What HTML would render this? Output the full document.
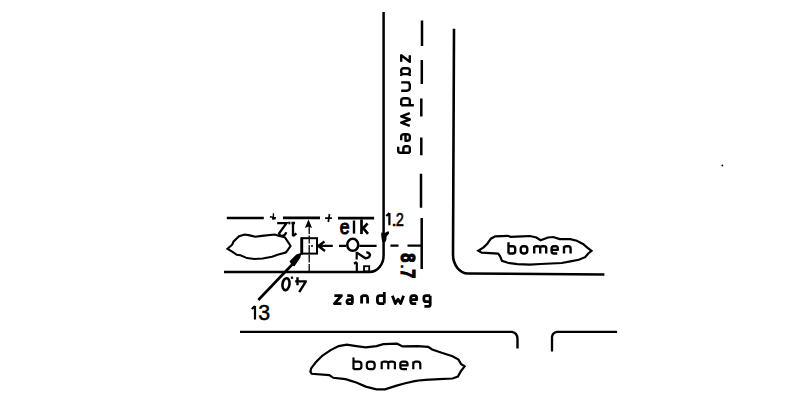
<!DOCTYPE html>
<html><head><meta charset="utf-8">
<style>
html,body{margin:0;padding:0;background:#fff;width:800px;height:415px;overflow:hidden}
svg{position:absolute;left:0;top:0;display:block}
text{font-family:"Liberation Sans",sans-serif;fill:#000}
</style></head>
<body>
<svg width="800" height="415" viewBox="0 0 800 415">
<g fill="none" stroke="#000" stroke-width="2.5">
  <path d="M383.6 12 V255.5 A14 16.5 0 0 1 369.6 272 H224"/>
  <path d="M454 28.7 L453 254.5 A15 19 0 0 0 468 273.5 L604.4 274.5" stroke-width="2.6"/>
  <path d="M422 20.5 V46 M421.8 60 V84 M421.3 98.5 V116.5 M421.3 137.5 V155.3 M421 173.7 V207.7 M421.7 218 V269"/>
  <path d="M240 331.9 H512 Q517.5 333 517.5 339 V348.5" stroke-width="2.4"/>
  <path d="M552 351.6 V337 Q552.5 332.5 557 331.9 H617.1" stroke-width="2.3"/>
  <path d="M226.8 218 H263.8 M283 217.9 H320 M338 218.1 H374.1" stroke-width="2.6"/>
  <path d="M269.9 216.7 L276 217.9 M273.4 213.3 V219.6" stroke-width="1.4"/>
  <rect x="272" y="217" width="3.5" height="2.5" fill="#000" stroke="none"/>
  <path d="M325.1 218.2 H331.9 M329.5 214 L328.3 222" stroke-width="1.7"/>
  <path d="M325 245.9 H332.8 M339 245.9 H346.3 M359.3 245.9 H376.6 M390.4 245.6 H398.5 M407.5 245.6 H422" stroke-width="2.2"/>
  <path d="M317.8 245.9 H326" stroke-width="2.2"/>
  <path d="M318.3 246 L324.5 241.5 M318.3 246 L325 251" stroke-width="2.2"/>
  <path d="M318 246 L322 243.5 L322 248.5 Z" fill="#000" stroke-width="1"/>
  <ellipse cx="352.75" cy="244.8" rx="5.5" ry="6" stroke-width="2.5"/>
  <rect x="301.7" y="238.2" width="15.3" height="15.4" stroke-width="2"/>
  <path d="M301.8 237.5 V254.5" stroke-width="2.8"/>
  <path d="M309.2 226 V272" stroke-width="1.3" stroke-dasharray="8 1.5"/>
  <circle cx="312" cy="246" r="1" fill="#000" stroke="none"/>
  <path d="M308.5 221 L306 227 L308.5 226 L311 227 Z" fill="#000" stroke-width="1.2"/>
  <path d="M258.3 300 L297 259.5" stroke-width="2.6"/>
  <path d="M300.3 254.1 L296.7 255.2 L290.5 261.4 L292.4 264.8 L294.2 265.4 L299.6 257.4 Z" fill="#000" stroke-width="1.6"/>
  <path d="M356.7 251.8 V259.6 M356.8 262.5 V272" stroke-width="2.2"/>
  <rect x="364" y="266.2" width="5.2" height="5.2" stroke-width="1.8"/>
  <path d="M381.3 232.5 L384.8 233 L388.3 231 L389.3 233.3 L386.6 236.5 L386.4 239.5 L385.3 241.9 L382.2 241.9 L381.6 238.5 L381.2 235 Z" fill="#000" stroke="none"/>
  <path d="M227.5 248.8 L232.2 244.7 L233.6 241.4 L239.1 236.3 L244.7 234.5 L249.8 235.4 L255.3 236.8 L261.8 235.9 L274.7 234.5 L279.4 235.9 L284.9 237.3 L288.6 242.8 L290.5 246 L287.7 250.2 L285.8 252.5 L277.5 254.8 L272 256.7 L262.7 258.5 L254.4 259 L247 258.1 L240.5 255.3 L236.8 254.8 L232.2 251.6 Z" stroke-width="2.1"/>
  <path d="M478.3 250.7 L483.6 247.4 L487.5 243.5 L490.9 238.7 L495.2 236.3 L507.8 235.8 L510.6 236.8 L522.2 236.3 L530 236 L536.4 237.5 L540.6 240.2 L548 237.5 L553.3 237 L559.7 239.1 L570.3 239.1 L576.7 240.7 L583 243.9 L587.3 247.6 L591.5 250.8 L588.3 253.5 L585.1 257.2 L578.8 259.8 L570.3 261.4 L561.8 263 L551.2 263.5 L540.6 264 L530 264.6 L517.4 264.2 L507.8 262.8 L502 260.9 L500 256 L498.1 253.6 L481.7 252.7 Z" stroke-width="2.2"/>
  <path d="M310.4 371.7 L311.1 368.4 L315.8 362.3 L322.5 355.5 L330.6 350.1 L338.7 346.1 L346.8 344.7 L356.3 346.1 L365.7 347.4 L376.5 346.1 L383.3 344.1 L397.1 343.7 L402.5 346.4 L417.4 346.1 L428.2 346.8 L432.2 349.5 L441.7 352.8 L452.5 356.2 L458.5 359.6 L461.2 364.3 L464.6 366.3 L460.6 371.7 L457.9 376.5 L452.5 378.5 L439 379.2 L425.5 379.8 L418.7 380.5 L414.7 381.2 L405.2 383.2 L395.8 385.9 L385 389.3 L376.5 389.3 L365.7 386.6 L356.3 382.5 L345.5 379.2 L333.3 377.8 L329.3 375.1 L311.7 373.8 Z" stroke-width="2.2"/>
</g>
<circle cx="722.3" cy="165.5" r="0.9" fill="#000"/>

<path d="M0 0 H1 L0 1 H1" transform="matrix(7.0000 0.0000 0.0000 7.9000 334.400 295.700)" vector-effect="non-scaling-stroke" fill="none" stroke="#000" stroke-width="2.8" stroke-linejoin="round" stroke-linecap="butt"/>
<path d="M0.05 0 H0.65 Q1 0 1 0.35 V1 M1 0.5 H0.35 Q0 0.5 0 0.75 Q0 1 0.35 1 H1.08" transform="matrix(5.4000 0.0000 0.0000 7.9000 347.000 295.700)" vector-effect="non-scaling-stroke" fill="none" stroke="#000" stroke-width="2.8" stroke-linejoin="round" stroke-linecap="butt"/>
<path d="M0 0 V1 M0 0.35 Q0 0 0.35 0 H0.65 Q1 0 1 0.35 V1" transform="matrix(6.0000 0.0000 0.0000 7.9000 361.600 295.700)" vector-effect="non-scaling-stroke" fill="none" stroke="#000" stroke-width="2.8" stroke-linejoin="round" stroke-linecap="butt"/>
<path d="M1 -0.47 V1 M1 0 H0.35 Q0 0 0 0.35 V0.65 Q0 1 0.35 1 H1" transform="matrix(6.9000 0.0000 0.0000 7.9000 377.400 295.700)" vector-effect="non-scaling-stroke" fill="none" stroke="#000" stroke-width="2.8" stroke-linejoin="round" stroke-linecap="butt"/>
<path d="M0 0 L0.26 1 L0.5 0.45 L0.74 1 L1 0" transform="matrix(11.2000 0.0000 0.0000 7.9000 392.400 295.700)" vector-effect="non-scaling-stroke" fill="none" stroke="#000" stroke-width="2.8" stroke-linejoin="round" stroke-linecap="butt"/>
<path d="M0 0.5 H1 V0.35 Q1 0 0.65 0 H0.35 Q0 0 0 0.35 V0.65 Q0 1 0.35 1 H0.92" transform="matrix(6.0000 0.0000 0.0000 7.9000 410.700 295.700)" vector-effect="non-scaling-stroke" fill="none" stroke="#000" stroke-width="2.8" stroke-linejoin="round" stroke-linecap="butt"/>
<path d="M1 0 H0.35 Q0 0 0 0.26249999999999996 V0.48750000000000004 Q0 0.75 0.35 0.75 H1 M1 0 V1.1 Q1 1.35 0.65 1.35 H0.08" transform="matrix(6.3000 0.0000 0.0000 7.9000 423.900 295.700)" vector-effect="non-scaling-stroke" fill="none" stroke="#000" stroke-width="2.8" stroke-linejoin="round" stroke-linecap="butt"/>
<path d="M0 0 H1 L0 1 H1" transform="matrix(0.0000 6.6000 -8.6000 0.0000 409.800 55.200)" vector-effect="non-scaling-stroke" fill="none" stroke="#000" stroke-width="2.4" stroke-linejoin="round" stroke-linecap="butt"/>
<path d="M0.3 0 H0.45 Q0.75 0 0.75 0.3 V0.7 Q0.75 1 0.45 1 H0.3 Q0 1 0 0.7 V0.3 Q0 0 0.3 0 Z M0.75 0 H1 M0.75 1 H1" transform="matrix(0.0000 7.9000 -8.6000 0.0000 409.800 68.200)" vector-effect="non-scaling-stroke" fill="none" stroke="#000" stroke-width="2.4" stroke-linejoin="round" stroke-linecap="butt"/>
<path d="M0 0 V1 M0 0.35 Q0 0 0.35 0 H0.65 Q1 0 1 0.35 V1" transform="matrix(0.0000 8.3000 -8.6000 0.0000 409.800 82.400)" vector-effect="non-scaling-stroke" fill="none" stroke="#000" stroke-width="2.4" stroke-linejoin="round" stroke-linecap="butt"/>
<path d="M1 -0.47 V1 M1 0 H0.35 Q0 0 0 0.35 V0.65 Q0 1 0.35 1 H1" transform="matrix(0.0000 7.1000 -8.6000 0.0000 409.800 98.200)" vector-effect="non-scaling-stroke" fill="none" stroke="#000" stroke-width="2.4" stroke-linejoin="round" stroke-linecap="butt"/>
<path d="M0 0 L0.25 1 L0.5 0 L0.75 1 L1 0" transform="matrix(0.0000 12.6000 -8.6000 0.0000 409.800 113.200)" vector-effect="non-scaling-stroke" fill="none" stroke="#000" stroke-width="2.4" stroke-linejoin="round" stroke-linecap="butt"/>
<path d="M0 0.5 H1 V0.35 Q1 0 0.65 0 H0.35 Q0 0 0 0.35 V0.65 Q0 1 0.35 1 H0.92" transform="matrix(0.0000 6.6000 -8.6000 0.0000 409.800 134.200)" vector-effect="non-scaling-stroke" fill="none" stroke="#000" stroke-width="2.4" stroke-linejoin="round" stroke-linecap="butt"/>
<path d="M1 0 H0.35 Q0 0 0 0.26249999999999996 V0.48750000000000004 Q0 0.75 0.35 0.75 H1 M1 0 V1.1 Q1 1.35 0.65 1.35 H0.08" transform="matrix(0.0000 6.6000 -8.6000 0.0000 409.800 146.200)" vector-effect="non-scaling-stroke" fill="none" stroke="#000" stroke-width="2.4" stroke-linejoin="round" stroke-linecap="butt"/>
<path d="M0 -0.55 V1 M0 0 H0.65 Q1 0 1 0.35 V0.65 Q1 1 0.65 1 H0" transform="matrix(6.7000 0.0000 0.0000 7.3000 508.500 246.200)" vector-effect="non-scaling-stroke" fill="none" stroke="#000" stroke-width="2.4" stroke-linejoin="round" stroke-linecap="butt"/>
<path d="M0.4 0 H0.6 Q1 0 1 0.4 V0.6 Q1 1 0.6 1 H0.4 Q0 1 0 0.6 V0.4 Q0 0 0.4 0 Z" transform="matrix(6.6000 0.0000 0.0000 7.3000 520.700 246.200)" vector-effect="non-scaling-stroke" fill="none" stroke="#000" stroke-width="2.4" stroke-linejoin="round" stroke-linecap="butt"/>
<path d="M0 0 V1 M0 0.2 Q0 0 0.2 0 H0.3 Q0.5 0 0.5 0.2 V1 M0.5 0.2 Q0.5 0 0.7 0 H0.8 Q1 0 1 0.2 V1" transform="matrix(12.0000 0.0000 0.0000 7.3000 534.200 246.200)" vector-effect="non-scaling-stroke" fill="none" stroke="#000" stroke-width="2.4" stroke-linejoin="round" stroke-linecap="butt"/>
<path d="M0 0.5 H1 V0.35 Q1 0 0.65 0 H0.35 Q0 0 0 0.35 V0.65 Q0 1 0.35 1 H0.92" transform="matrix(6.2000 0.0000 0.0000 7.3000 551.600 246.200)" vector-effect="non-scaling-stroke" fill="none" stroke="#000" stroke-width="2.4" stroke-linejoin="round" stroke-linecap="butt"/>
<path d="M0 0 V1 M0 0.35 Q0 0 0.35 0 H0.65 Q1 0 1 0.35 V1" transform="matrix(6.6000 0.0000 0.0000 7.3000 564.000 246.200)" vector-effect="non-scaling-stroke" fill="none" stroke="#000" stroke-width="2.4" stroke-linejoin="round" stroke-linecap="butt"/>
<path d="M0 -0.55 V1 M0 0 H0.65 Q1 0 1 0.35 V0.65 Q1 1 0.65 1 H0" transform="matrix(7.9000 0.0000 0.0000 7.6000 353.500 361.600)" vector-effect="non-scaling-stroke" fill="none" stroke="#000" stroke-width="2.2" stroke-linejoin="round" stroke-linecap="butt"/>
<path d="M0.4 0 H0.6 Q1 0 1 0.4 V0.6 Q1 1 0.6 1 H0.4 Q0 1 0 0.6 V0.4 Q0 0 0.4 0 Z" transform="matrix(7.9000 0.0000 0.0000 7.6000 366.800 361.600)" vector-effect="non-scaling-stroke" fill="none" stroke="#000" stroke-width="2.2" stroke-linejoin="round" stroke-linecap="butt"/>
<path d="M0 0 V1 M0 0.2 Q0 0 0.2 0 H0.3 Q0.5 0 0.5 0.2 V1 M0.5 0.2 Q0.5 0 0.7 0 H0.8 Q1 0 1 0.2 V1" transform="matrix(13.2000 0.0000 0.0000 7.6000 381.700 361.600)" vector-effect="non-scaling-stroke" fill="none" stroke="#000" stroke-width="2.2" stroke-linejoin="round" stroke-linecap="butt"/>
<path d="M0 0.5 H1 V0.35 Q1 0 0.65 0 H0.35 Q0 0 0 0.35 V0.65 Q0 1 0.35 1 H0.92" transform="matrix(7.3000 0.0000 0.0000 7.6000 400.300 361.600)" vector-effect="non-scaling-stroke" fill="none" stroke="#000" stroke-width="2.2" stroke-linejoin="round" stroke-linecap="butt"/>
<path d="M0 0 V1 M0 0.35 Q0 0 0.35 0 H0.65 Q1 0 1 0.35 V1" transform="matrix(7.0000 0.0000 0.0000 7.6000 413.300 361.600)" vector-effect="non-scaling-stroke" fill="none" stroke="#000" stroke-width="2.2" stroke-linejoin="round" stroke-linecap="butt"/>
<text font-size="19" font-weight="normal" transform="matrix(0.9333 0.0000 0.0000 1.0795 339.700 234.165)" stroke="#000" stroke-width="1.0" vector-effect="non-scaling-stroke">e</text>
<path d="M354 220.5 V233.6" stroke="#000" stroke-width="2.4" fill="none"/>
<path d="M361.5 219.5 V233.9 M367.6 223.3 L361.5 230 M363.5 228.5 L368 233.9" stroke="#000" stroke-width="2.7" fill="none"/>
<path d="M389.4 213 V225.3 M386.3 216 L389.4 213" stroke="#000" stroke-width="2.2" fill="none"/>
<text font-size="18" font-weight="normal" transform="matrix(1.1429 0.0000 0.0000 1.0667 391.143 226.000)" stroke="#000" stroke-width="0.45" vector-effect="non-scaling-stroke">.</text>
<text font-size="18" font-weight="normal" transform="matrix(0.8121 0.0000 0.0000 1.0455 395.789 226.000)" stroke="#000" stroke-width="0.5" vector-effect="non-scaling-stroke">2</text>
<path d="M255 306.1 V319.5 M251.8 309 L255 306.1" stroke="#000" stroke-width="2.2" fill="none"/>
<text font-size="19" font-weight="normal" transform="matrix(1.1222 0.0000 0.0000 1.1364 258.158 320.258)" stroke="#000" stroke-width="0.5" vector-effect="non-scaling-stroke">3</text>
<path d="M293 222.3 V236.2 M296.4 233.3 L293 236.2" stroke="#000" stroke-width="2.3" fill="none"/>
<rect x="288.3" y="221.7" width="2.1" height="2.6" fill="#000"/>
<path d="M277.2 223.2 H286.5 L279 233.5 Q279.8 236.2 282.8 235.8 Q285.5 235.2 286.2 232.3 M291.5 223 H295" stroke="#000" stroke-width="2.3" fill="none"/>
<path d="M297.5 277.2 V285.3 M295.2 281.4 H306.8 M305.6 281.8 L299.2 292.2" stroke="#000" stroke-width="2.4" fill="none"/>
<rect x="290.9" y="276.6" width="2.2" height="2.2" fill="#000"/>
<ellipse cx="286" cy="284.2" rx="3.5" ry="6" stroke="#000" stroke-width="2.6" fill="none" transform="rotate(8 286 284.2)"/>
<text font-size="19" font-weight="bold" transform="matrix(0.0000 0.8640 -1.0991 0.0000 400.737 253.160)" stroke="#000" stroke-width="1.1" vector-effect="non-scaling-stroke">8</text>
<text font-size="19" font-weight="normal" transform="matrix(0.0000 1.1429 -1.0000 0.0000 401.000 263.500)" stroke="#000" stroke-width="0.45" vector-effect="non-scaling-stroke">.</text>
<text font-size="19" font-weight="bold" transform="matrix(0.0000 0.8444 -1.0210 0.0000 400.600 269.167)" stroke="#000" stroke-width="1.1" vector-effect="non-scaling-stroke">7</text>
<path d="M356.9 252.6 L365.4 258.3 Q369.5 258 370 255 Q369.5 252.3 366.3 252.4 M354 263.8 L356.8 262" stroke="#000" stroke-width="2.3" fill="none"/>
</svg>
</body></html>
